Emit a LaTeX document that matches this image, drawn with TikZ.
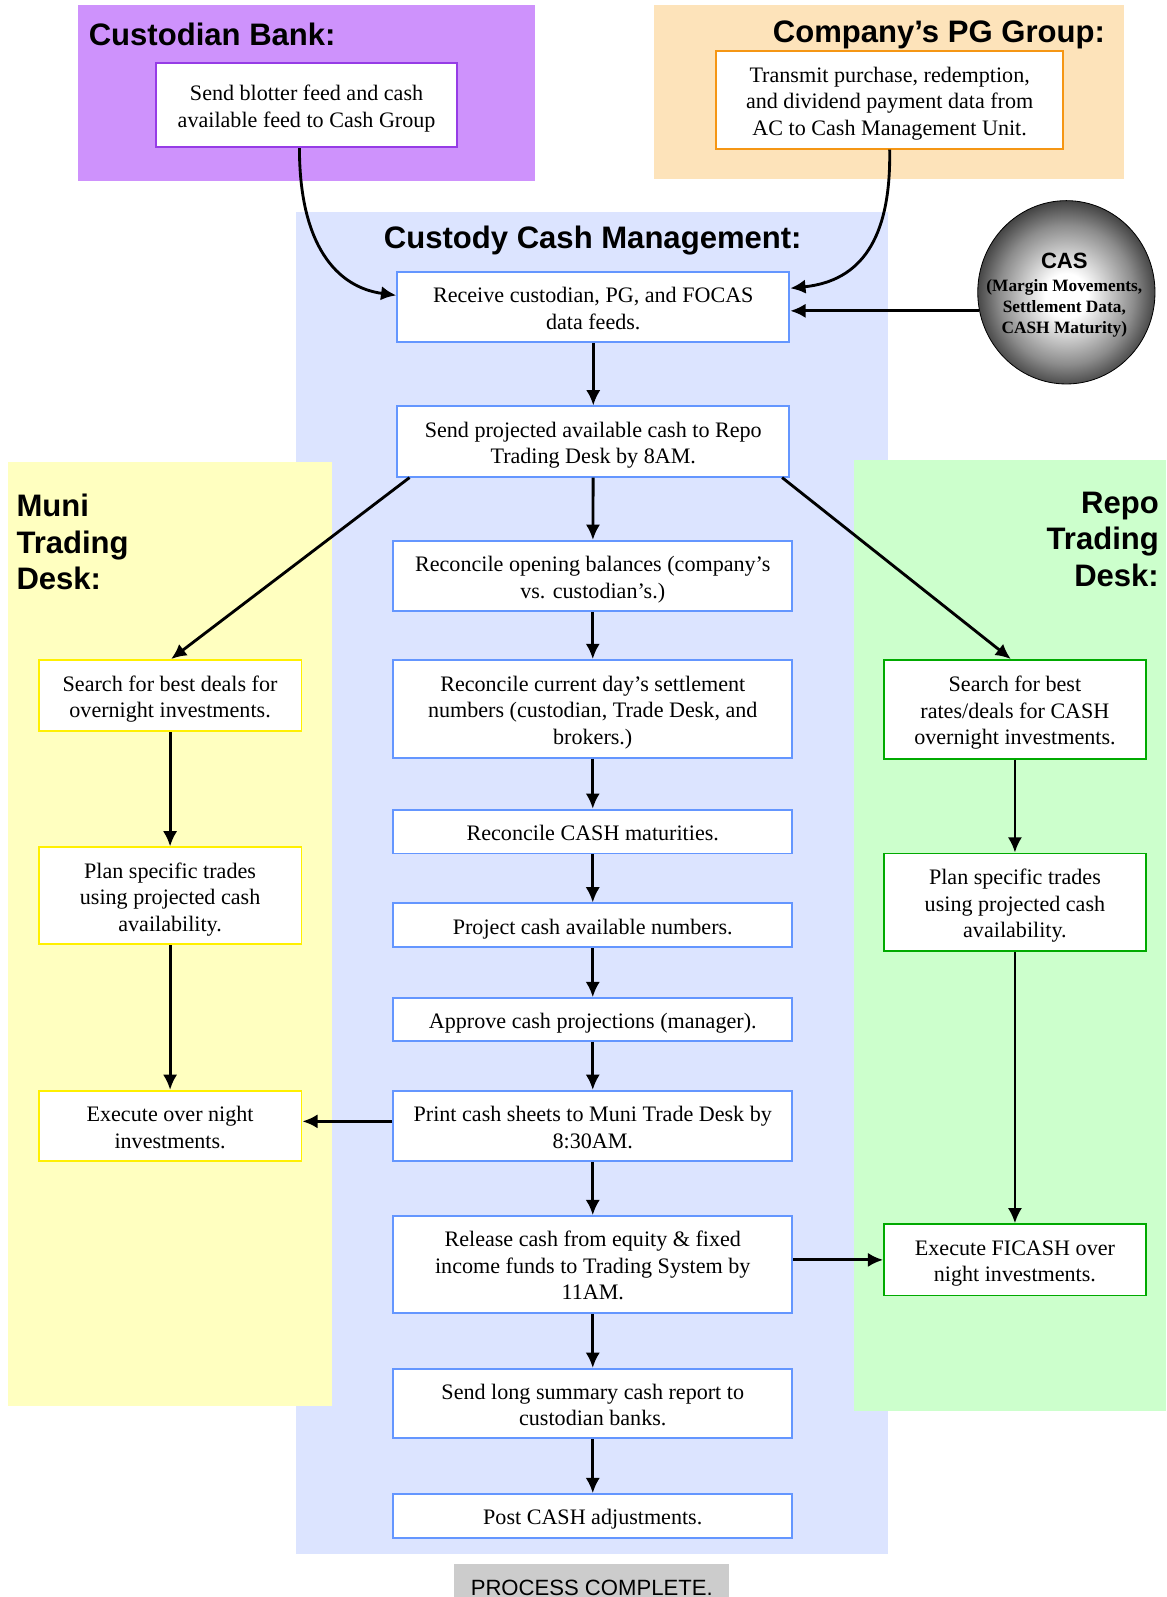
\documentclass[tikz,border=0pt]{standalone}
\usepackage{fontspec}
\setmainfont{Liberation Serif}
\setsansfont{Liberation Sans}
\usetikzlibrary{arrows.meta,shapes.geometric}

\definecolor{purplebg}{RGB}{206,146,252}
\definecolor{purpleline}{RGB}{150,60,230}
\definecolor{peachbg}{RGB}{253,227,186}
\definecolor{orangeline}{RGB}{245,150,20}
\definecolor{bluebg}{RGB}{220,228,255}
\definecolor{blueline}{RGB}{100,150,255}
\definecolor{yellowbg}{RGB}{255,255,192}
\definecolor{yellowline}{RGB}{255,240,0}
\definecolor{greenbg}{RGB}{204,255,204}
\definecolor{greenline}{RGB}{0,170,0}
\definecolor{donegray}{RGB}{204,204,204}

\newcommand\bodyfont{\fontsize{21.7}{26}\selectfont}
\newcommand\headfont{\sffamily\bfseries\fontsize{30.5}{36}\selectfont}
% centred block of lines on a fixed baseline grid, drawn slightly low in its box
\newcommand\lines[1]{\raisebox{-3.5pt}[\height][\depth]{\begin{tabular}{@{}c@{}}#1\end{tabular}}}

\pgfdeclareradialshading{casglow}{\pgfpoint{0bp}{-1bp}}{%
  color(0bp)=(white); color(6bp)=(white); color(19bp)=(black!45);
  color(28bp)=(black!85); color(34bp)=(black); color(50bp)=(black)}

\tikzset{
  box/.style={draw, fill=white, line width=1.8pt, inner sep=0pt, font=\bodyfont},
  cashbox/.style={box, draw=blueline},
  munibox/.style={box, draw=yellowline},
  repobox/.style={box, draw=greenline},
  arr/.style={line width=2.8pt, -{Latex[length=15pt,width=14pt]}},
  lanetitle/.style={inner sep=0pt, font=\headfont}
}

\begin{document}
\begin{tikzpicture}[x=1pt,y=-1pt]
\useasboundingbox (0,0) rectangle (1145,1568);
\begin{scope}
\clip (0,0) rectangle (1145,1568);

% swim lanes
\fill[purplebg] (77,5) rectangle (525,178);
\fill[peachbg] (642,5) rectangle (1104,176);
\fill[bluebg] (291,208) rectangle (872,1526);
\fill[yellowbg] (8,454) rectangle (326,1380);
\fill[greenbg] (838,452) rectangle (1145,1385);

% lane titles
\node[lanetitle, anchor=base west] (banktitle) at (87,45) {Custodian Bank:};
\node[lanetitle, anchor=base east] (pgtitle) at (1085,42) {Company’s PG Group:};
\node[lanetitle, anchor=base] (cmtitle) at (582,244) {Custody Cash Management:};
\node[lanetitle, anchor=base west] (munititle) at (16,507)
  {\begin{tabular}[t]{@{}l@{}}Muni\\Trading\\Desk:\end{tabular}};
\node[lanetitle, anchor=base east] (repotitle) at (1138,504)
  {\begin{tabular}[t]{@{}r@{}}Repo\\Trading\\Desk:\end{tabular}};

% source boxes
\node[box, draw=purpleline, minimum width=296pt, minimum height=83pt] (bank) at (301,103)
  {\lines{Send blotter feed and cash\\available feed to Cash Group}};
\node[box, draw=orangeline, minimum width=341pt, minimum height=96pt] (pg) at (873.5,98)
  {\lines{Transmit purchase, redemption,\\and dividend payment data from\\AC to Cash Management Unit.}};

% CAS sphere
\node[ellipse, draw=black, line width=0.8pt, shading=casglow, inner sep=0pt,
  minimum width=174pt, minimum height=180pt] (cas) at (1047,287) {};
\node[anchor=base, inner sep=0pt, font=\sffamily\bfseries\fontsize{21.7}{24}\selectfont]
  (cashead) at (1045,264) {CAS};
\node[anchor=base, inner sep=0pt, font=\bfseries\fontsize{17}{20.5}\selectfont]
  (casnote) at (1045,286)
  {\begin{tabular}[t]{@{}c@{}}(Margin Movements,\\Settlement Data,\\CASH Maturity)\end{tabular}};

% cash management column
\node[cashbox, minimum width=385pt, minimum height=69pt] (n1) at (582.5,301.5)
  {\lines{Receive custodian, PG, and FOCAS\\data feeds.}};
\node[cashbox, minimum width=385pt, minimum height=69pt] (n2) at (582.5,433.5)
  {\lines{Send projected available cash to Repo\\Trading Desk by 8AM.}};
\node[cashbox, minimum width=392pt, minimum height=69pt] (n3) at (582,565.5)
  {\lines{Reconcile opening balances (company’s\\vs. custodian’s.)}};
\node[cashbox, minimum width=392pt, minimum height=96pt] (n4) at (582,696)
  {\lines{Reconcile current day’s settlement\\numbers (custodian, Trade Desk, and\\brokers.)}};
\node[cashbox, minimum width=392pt, minimum height=43pt] (n5) at (582,816.5)
  {\lines{Reconcile CASH maturities.}};
\node[cashbox, minimum width=392pt, minimum height=43pt] (n6) at (582,908.5)
  {\lines{Project cash available numbers.}};
\node[cashbox, minimum width=392pt, minimum height=42pt] (n7) at (582,1001)
  {\lines{Approve cash projections (manager).}};
\node[cashbox, minimum width=392pt, minimum height=69pt] (n8) at (582,1105.5)
  {\lines{Print cash sheets to Muni Trade Desk by\\8:30AM.}};
\node[cashbox, minimum width=392pt, minimum height=95pt] (n9) at (582,1241.5)
  {\lines{Release cash from equity \& fixed\\income funds to Trading System by\\11AM.}};
\node[cashbox, minimum width=392pt, minimum height=68pt] (n10) at (582,1378)
  {\lines{Send long summary cash report to\\custodian banks.}};
\node[cashbox, minimum width=392pt, minimum height=43pt] (n11) at (582,1488.5)
  {\lines{Post CASH adjustments.}};

% muni trading desk
\node[munibox, minimum width=258pt, minimum height=70pt] (m1) at (167,683)
  {\lines{Search for best deals for\\overnight investments.}};
\node[munibox, minimum width=258pt, minimum height=95pt] (m2) at (167,879.5)
  {\lines{Plan specific trades\\using projected cash\\availability.}};
\node[munibox, minimum width=258pt, minimum height=69pt] (m3) at (167,1105.5)
  {\lines{Execute over night\\investments.}};

% repo trading desk
\node[repobox, minimum width=257pt, minimum height=97pt] (r1) at (996.5,696.5)
  {\lines{Search for best\\rates/deals for CASH\\overnight investments.}};
\node[repobox, minimum width=257pt, minimum height=96pt] (r2) at (996.5,886)
  {\lines{Plan specific trades\\using projected cash\\availability.}};
\node[repobox, minimum width=257pt, minimum height=70pt] (r3) at (996.5,1237)
  {\lines{Execute FICASH over\\night investments.}};

% process end
\node[fill=donegray, inner sep=0pt, anchor=north, minimum width=270pt,
  minimum height=47pt, font=\sffamily\fontsize{21.7}{26}\selectfont] (done) at (581,1535)
  {PROCESS COMPLETE.};

% incoming feeds
\draw[arr] (bank.south -| 294,0) .. controls (294,240) and (330,282) .. ([yshift=11.5pt]n1.west);
\draw[arr] (pg.south) .. controls (875,235) and (845,276) .. ([yshift=18.5pt]n1.east);
\draw[arr] (cas.192) -- (cas.192 -| n1.east);

% main column flow
\draw[arr] (n1) -- (n2);
\draw[arr] (n2) -- (n3);
\draw[arr] (n3) -- (n4);
\draw[arr] (n4) -- (n5);
\draw[arr] (n5) -- (n6);
\draw[arr] (n6) -- (n7);
\draw[arr] (n7) -- (n8);
\draw[arr] (n8) -- (n9);
\draw[arr] (n9) -- (n10);
\draw[arr] (n10) -- (n11);

% hand-offs to the trading desks
\draw[arr] ([xshift=13pt]n2.south west) -- ([xshift=1pt]m1.north);
\draw[arr] ([xshift=-8pt]n2.south east) -- ([xshift=-4pt]r1.north);
\draw[arr] ([yshift=4.5pt]n8.west) -- ([yshift=4.5pt]m3.east);
\draw[arr] (n9.east |- r3.west) -- (r3.west);

% desk flows
\draw[arr] (m1) -- (m2);
\draw[arr] (m2) -- (m3);
\draw[arr] (r1) -- (r2);
\draw[arr] (r2) -- (r3);
\end{scope}
\end{tikzpicture}
\end{document}
